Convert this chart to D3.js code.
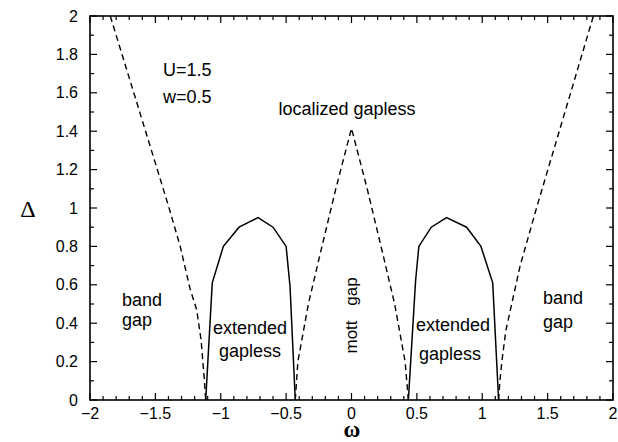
<!DOCTYPE html>
<html>
<head>
<meta charset="utf-8">
<script src="https://cdn.jsdelivr.net/npm/d3@7"></script>
<style>
  html, body { margin: 0; padding: 0; background: #fff; }
  svg { display: block; }
  text { font-family: "Liberation Sans", Arial, Helvetica, sans-serif; fill: #000; }
</style>
</head>
<body>
<svg id="chart" width="618" height="442"></svg>
<script>
// ---- data ----
const xTickValues = [-2, -1.5, -1, -0.5, 0, 0.5, 1, 1.5, 2];
const xTickLabels = ["\u22122", "\u22121.5", "\u22121", "\u22120.5", "0", "0.5", "1", "1.5", "2"];
const yTickValues = [0, 0.2, 0.4, 0.6, 0.8, 1, 1.2, 1.4, 1.6, 1.8, 2];
const yTickLabels = ["0", "0.2", "0.4", "0.6", "0.8", "1", "1.2", "1.4", "1.6", "1.8", "2"];

// dashed boundaries (omega, Delta)
const outerLeft = [[-1.845, 2.0], [-1.395, 1.0], [-1.31, 0.80], [-1.235, 0.58], [-1.184, 0.47], [-1.15, 0.31], [-1.125, 0.10], [-1.115, 0.0]];
const outerRight = [[1.125, 0.0], [1.135, 0.10], [1.15, 0.20], [1.18, 0.36], [1.29, 0.70], [1.415, 1.0], [1.85, 2.0]];
const centerPeak = [[-0.43, 0.0], [-0.41, 0.20], [-0.33, 0.50], [-0.24, 0.76], [-0.12, 1.10], [0.0, 1.415], [0.12, 1.10], [0.24, 0.76], [0.33, 0.50], [0.41, 0.20], [0.435, 0.0]];

// solid boundaries (domes)
const domeLeft = [[-1.115, 0.0], [-1.065, 0.61], [-0.98, 0.80], [-0.86, 0.90], [-0.715, 0.95], [-0.60, 0.90], [-0.50, 0.80], [-0.47, 0.59], [-0.43, 0.0]];
const domeRight = [[0.435, 0.0], [0.49, 0.62], [0.515, 0.80], [0.61, 0.90], [0.727, 0.95], [0.88, 0.90], [0.99, 0.80], [1.08, 0.61], [1.125, 0.0]];

// ---- layout ----
const svg = d3.select("#chart");
const L = 90, R = 613, T = 16, B = 400;
const x = d3.scaleLinear().domain([-2, 2]).range([L, R]);
const y = d3.scaleLinear().domain([0, 2]).range([B, T]);

const xMinor = d3.range(-20, 21).map(d => d / 10);
const yMinor = d3.range(0, 21).map(d => d / 10);

// ticks (inward, mirrored)
const tickG = svg.append("g").attr("stroke", "#000").attr("stroke-width", 1.2);
xMinor.forEach(v => {
  const major = Math.abs(v * 2 - Math.round(v * 2)) < 1e-6;
  const len = major ? 7 : 4;
  tickG.append("line").attr("x1", x(v)).attr("x2", x(v)).attr("y1", B).attr("y2", B - len);
  tickG.append("line").attr("x1", x(v)).attr("x2", x(v)).attr("y1", T).attr("y2", T + len);
});
yMinor.forEach(v => {
  const major = Math.abs(v * 5 - Math.round(v * 5)) < 1e-6;
  const len = major ? 7 : 4;
  tickG.append("line").attr("y1", y(v)).attr("y2", y(v)).attr("x1", L).attr("x2", L + len);
  tickG.append("line").attr("y1", y(v)).attr("y2", y(v)).attr("x1", R).attr("x2", R - len);
});

// frame
svg.append("rect").attr("x", L).attr("y", T).attr("width", R - L).attr("height", B - T)
  .attr("fill", "none").attr("stroke", "#000").attr("stroke-width", 1.6);

// tick labels
svg.append("g").selectAll("text").data(xTickValues).join("text")
  .attr("x", d => x(d)).attr("y", 418.5).attr("text-anchor", "middle")
  .attr("font-size", 16).text((d, i) => xTickLabels[i]);
svg.append("g").selectAll("text").data(yTickValues).join("text")
  .attr("x", 78).attr("y", d => y(d) + 5.5).attr("text-anchor", "end")
  .attr("font-size", 16).text((d, i) => yTickLabels[i]);

// axis titles
svg.append("text").attr("x", 28).attr("y", 217).attr("text-anchor", "middle")
  .attr("font-size", 24).style("font-family", "'Liberation Serif', serif").text("\u0394");
svg.append("text").attr("x", 352).attr("y", 436.5).attr("text-anchor", "middle")
  .attr("font-size", 23).attr("font-weight", "bold").style("font-family", "'Liberation Serif', serif").text("\u03C9");

// curves
const line = d3.line().x(d => x(d[0])).y(d => y(d[1]));
svg.append("clipPath").attr("id", "plotclip").append("rect")
  .attr("x", L).attr("y", T).attr("width", R - L).attr("height", B - T);
const curves = svg.append("g").attr("clip-path", "url(#plotclip)").attr("fill", "none").attr("stroke", "#000");
[outerLeft, outerRight, centerPeak].forEach(s => {
  curves.append("path").attr("d", line(s)).attr("stroke-width", 1.4).attr("stroke-dasharray", "6,4");
});
[domeLeft, domeRight].forEach(s => {
  curves.append("path").attr("d", line(s)).attr("stroke-width", 1.5);
});

// annotations
const ann = svg.append("g").attr("font-size", 18);
ann.append("text").attr("x", 163).attr("y", 76).text("U=1.5");
ann.append("text").attr("x", 163).attr("y", 103).text("w=0.5");
ann.append("text").attr("x", 347).attr("y", 115).attr("text-anchor", "middle").text("localized gapless");
ann.append("text").attr("x", 122).attr("y", 306).text("band");
ann.append("text").attr("x", 122).attr("y", 326).text("gap");
ann.append("text").attr("x", 543).attr("y", 304).text("band");
ann.append("text").attr("x", 543).attr("y", 328).text("gap");
ann.append("text").attr("x", 250).attr("y", 334).attr("text-anchor", "middle").text("extended");
ann.append("text").attr("x", 250).attr("y", 357).attr("text-anchor", "middle").text("gapless");
ann.append("text").attr("x", 453).attr("y", 331).attr("text-anchor", "middle").text("extended");
ann.append("text").attr("x", 450).attr("y", 360).attr("text-anchor", "middle").text("gapless");
ann.append("text").attr("transform", "translate(357,337) rotate(-90)").attr("text-anchor", "middle").attr("font-size", 17).text("mott");
ann.append("text").attr("transform", "translate(357,291.5) rotate(-90)").attr("text-anchor", "middle").attr("font-size", 17).text("gap");
</script>
</body>
</html>
